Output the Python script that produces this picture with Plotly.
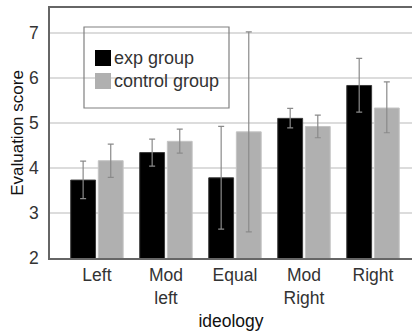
import plotly.graph_objects as go

# Mean evaluation scores by ideology, with error-bar bounds
categories = ["Left", "Mod<br>left", "Equal", "Mod<br>Right", "Right"]
exp_mean = [3.73, 4.34, 3.78, 5.10, 5.83]
exp_upper = [4.15, 4.64, 4.92, 5.32, 6.43]
exp_lower = [3.32, 4.04, 2.64, 4.89, 5.24]
ctrl_mean = [4.16, 4.59, 4.80, 4.92, 5.33]
ctrl_upper = [4.53, 4.86, 7.02, 5.17, 5.91]
ctrl_lower = [3.79, 4.33, 2.58, 4.67, 4.78]
y_ticks = [2, 3, 4, 5, 6, 7]

FONT = "Liberation Sans, Arial, sans-serif"
TEXT = "#333333"
EXP_COLOR = "#000000"
CTRL_COLOR = "#b0b0b0"

# plot area in pixels (used to place the boxed key)
L, R, T, B = 50, 412, 8, 258
def px(xp):
    return (xp - L) / (R - L)
def py(yp):
    return (B - yp) / (B - T)

def err(mean, upper, lower):
    return dict(
        type="data", symmetric=False,
        array=[u - m for u, m in zip(upper, mean)],
        arrayminus=[m - l for m, l in zip(mean, lower)],
        color="#8a8a8a", thickness=1.2, width=3,
    )

x = list(range(len(categories)))

fig = go.Figure()
series = [
    ("exp group", exp_mean, exp_upper, exp_lower, EXP_COLOR, "#3a3a3a"),
    ("control group", ctrl_mean, ctrl_upper, ctrl_lower, CTRL_COLOR, "#c4c4c4"),
]
for name, m, u, l, c, lc in series:
    fig.add_trace(go.Bar(
        name=name, x=x, y=m,
        marker=dict(color=c, line=dict(color=lc, width=1)),
        error_y=err(m, u, l),
    ))

# boxed key: frame, colour swatches and labels
shapes = [dict(
    type="rect", xref="paper", yref="paper",
    x0=px(84), x1=px(229), y0=py(108), y1=py(27),
    line=dict(color="#808080", width=1.2), fillcolor="rgba(0,0,0,0)",
)]
annotations = []
for i, (name, _, _, _, c, _) in enumerate(series):
    top = 50 + i * 23
    shapes.append(dict(
        type="rect", xref="paper", yref="paper",
        x0=px(95), x1=px(111), y0=py(top + 16), y1=py(top),
        line=dict(width=0), fillcolor=c,
    ))
    annotations.append(dict(
        xref="paper", yref="paper", x=px(112), y=py(top + 8),
        xanchor="left", yanchor="middle", showarrow=False,
        text=name, font=dict(family=FONT, size=18, color=TEXT),
    ))

fig.update_layout(
    width=412, height=334,
    margin=dict(l=L, r=412 - R, t=T, b=334 - B),
    paper_bgcolor="white", plot_bgcolor="white",
    barmode="group", bargap=0.2, bargroupgap=0.1,
    font=dict(family=FONT, size=17, color=TEXT),
    showlegend=False,
    xaxis=dict(
        range=[-0.68, 4.565],
        tickmode="array", tickvals=x, ticktext=categories,
        showgrid=False, zeroline=False,
        showline=True, linecolor="#666666", linewidth=1.5, mirror=True,
        ticks="", tickfont=dict(size=17.5, color=TEXT),
        title=dict(text="ideology", font=dict(size=17.5, color="#111111"), standoff=8),
    ),
    yaxis=dict(
        range=[2, 7.55],
        tickmode="array", tickvals=y_ticks,
        showgrid=True, gridcolor="#dcdcdc", gridwidth=1.5,
        zeroline=False,
        showline=True, linecolor="#666666", linewidth=1.5,
        ticks="", ticklabelstandoff=6,
        tickfont=dict(size=17.5, color=TEXT),
        title=dict(text="Evaluation score", font=dict(size=17, color="#111111"), standoff=1),
    ),
    shapes=shapes,
    annotations=annotations,
)

fig.write_html("out.html")
